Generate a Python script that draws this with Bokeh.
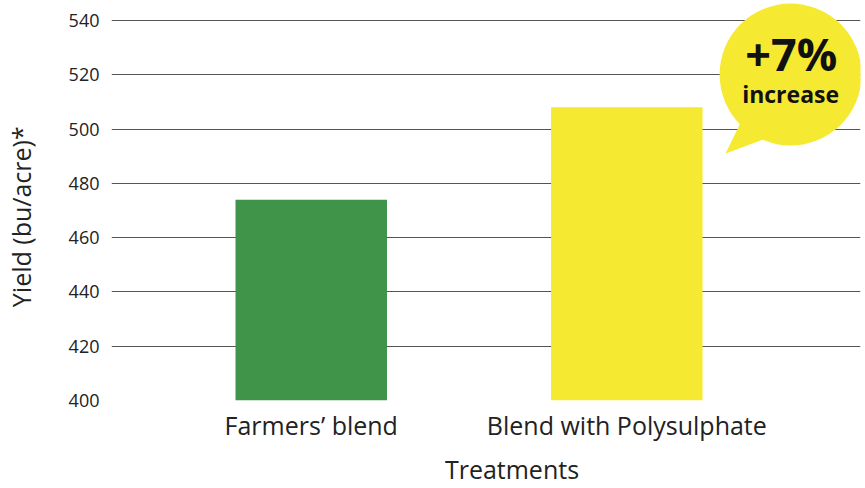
from bokeh.plotting import figure
from bokeh.models import FixedTicker, Range1d, ColumnDataSource
from bokeh.embed import file_html
from bokeh.resources import INLINE
from bokeh.core.properties import value

# ---- data ----
categories = ["Farmers’ blend", "Blend with Polysulphate"]
yields = [474, 508]
bar_colors = ["#3f9449", "#f5e931"]
y_ticks = [400, 420, 440, 460, 480, 500, 520, 540]
x_title = "Treatments"
y_title = "Yield (bu/acre)*"
callout_word = "increase"

positions = [1, 2]
pct = round((yields[1] - yields[0]) / yields[0] * 100)
callout_pct = f"+{pct}%"

FONT = "Open Sans"
TXT = "#222222"
NB = "\u00a0"

p = figure(width=865, height=488, output_backend="svg", toolbar_location=None,
           x_range=Range1d(0.367, 2.7405), y_range=Range1d(400, 547.37),
           min_border_left=110, min_border_right=5, min_border_top=0,
           min_border_bottom=88)
p.outline_line_color = None
p.background_fill_color = "white"

src = ColumnDataSource(dict(x=positions, top=yields, color=bar_colors))
p.vbar(x="x", top="top", bottom=400, width=0.48, color="color", source=src,
       line_color=None)

# grid
p.xgrid.grid_line_color = None
p.ygrid.ticker = FixedTicker(ticks=y_ticks)
p.ygrid.grid_line_color = "#555555"
p.ygrid.grid_line_width = 1
p.ygrid.level = "underlay"

# y axis
ya = p.yaxis[0]
ya.ticker = FixedTicker(ticks=y_ticks)
ya.axis_line_color = None
ya.major_tick_line_color = None
ya.minor_tick_line_color = None
ya.major_label_text_font = FONT
ya.major_label_text_font_size = "18px"
ya.major_label_text_color = TXT
ya.major_label_standoff = 6
ya.axis_label = y_title + NB * 5
ya.axis_label_text_font = FONT
ya.axis_label_text_font_size = "25px"
ya.axis_label_text_font_style = "normal"
ya.axis_label_text_color = TXT
ya.axis_label_standoff = 28

# x axis
xa = p.xaxis[0]
xa.ticker = FixedTicker(ticks=positions)
xa.major_label_overrides = {pos: c for pos, c in zip(positions, categories)}
xa.axis_line_color = None
xa.major_tick_line_color = None
xa.minor_tick_line_color = None
xa.major_label_text_font = FONT
xa.major_label_text_font_size = "25px"
xa.major_label_text_color = TXT
xa.major_label_standoff = 1
xa.axis_label = NB * 8 + x_title
xa.axis_label_text_font = FONT
xa.axis_label_text_font_size = "25px"
xa.axis_label_text_font_style = "normal"
xa.axis_label_text_color = TXT
xa.axis_label_standoff = 7

# callout bubble (annotation)
cx, cy = 2.519, 520.1
p.patch(x=[2.313, 2.367, 2.44], y=[491.0, 503.9, 496.5], color=bar_colors[1],
        line_color=None)
p.scatter(x=[cx], y=[cy], size=142, marker="circle", color=bar_colors[1],
          line_color=None)
p.text(x=[2.521], y=[528.0], text=[callout_pct], text_font=value(FONT),
       text_font_size="45px", text_font_style="bold", text_align="center",
       text_baseline="alphabetic", text_color="#111111")
p.text(x=[2.519], y=[512.9], text=[callout_word], text_font=value(FONT),
       text_font_size="23px", text_font_style="bold", text_align="center",
       text_baseline="alphabetic", text_color="#111111")

open("out.html", "w").write(file_html(p, INLINE))
